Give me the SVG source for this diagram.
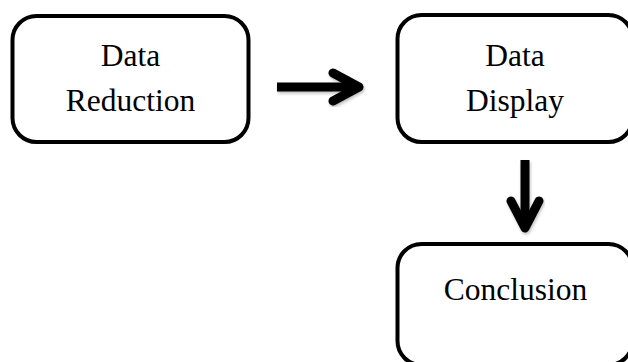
<svg xmlns="http://www.w3.org/2000/svg" width="628" height="362" viewBox="0 0 628 362">
  <style>
    .box { fill: #ffffff; stroke: #000000; stroke-width: 4; }
    .lbl { font-family: "Liberation Serif", "Times New Roman", serif; font-size: 31.5px; fill: #000000; text-anchor: middle; }
    .shaft { fill: none; stroke: #000000; stroke-width: 9; stroke-linecap: butt; }
    .head { fill: none; stroke: #000000; stroke-width: 9; stroke-linecap: round; stroke-linejoin: round; }
  </style>
  <defs>
    <filter id="sh" x="-20%" y="-20%" width="140%" height="140%">
      <feDropShadow dx="1" dy="2" stdDeviation="1.5" flood-color="#000000" flood-opacity="0.25"/>
    </filter>
  </defs>
  <rect width="628" height="362" fill="#ffffff"/>
  <g id="connectors">
    <g id="arrow-reduction-display" filter="url(#sh)">
      <line class="shaft" x1="277" y1="87" x2="356" y2="87"/>
      <polyline class="head" points="333,73 359,87 333,101"/>
    </g>
    <g id="arrow-display-conclusion" filter="url(#sh)">
      <line class="shaft" x1="525" y1="160" x2="525" y2="224"/>
      <polyline class="head" points="511,201 525,228 539,201"/>
    </g>
  </g>
  <g id="node-data-reduction">
    <rect class="box" x="12.5" y="16" width="236" height="126" rx="24" ry="24"/>
    <text class="lbl" x="130.5" y="65.5">Data</text>
    <text class="lbl" x="130.5" y="110.5">Reduction</text>
  </g>
  <g id="node-data-display">
    <rect class="box" x="397.5" y="15" width="235" height="127" rx="24" ry="24"/>
    <text class="lbl" x="515" y="65.5">Data</text>
    <text class="lbl" x="515" y="110.5">Display</text>
  </g>
  <g id="node-conclusion">
    <rect class="box" x="397.5" y="244" width="235" height="121" rx="24" ry="24"/>
    <text class="lbl" x="515.5" y="300">Conclusion</text>
  </g>
</svg>
